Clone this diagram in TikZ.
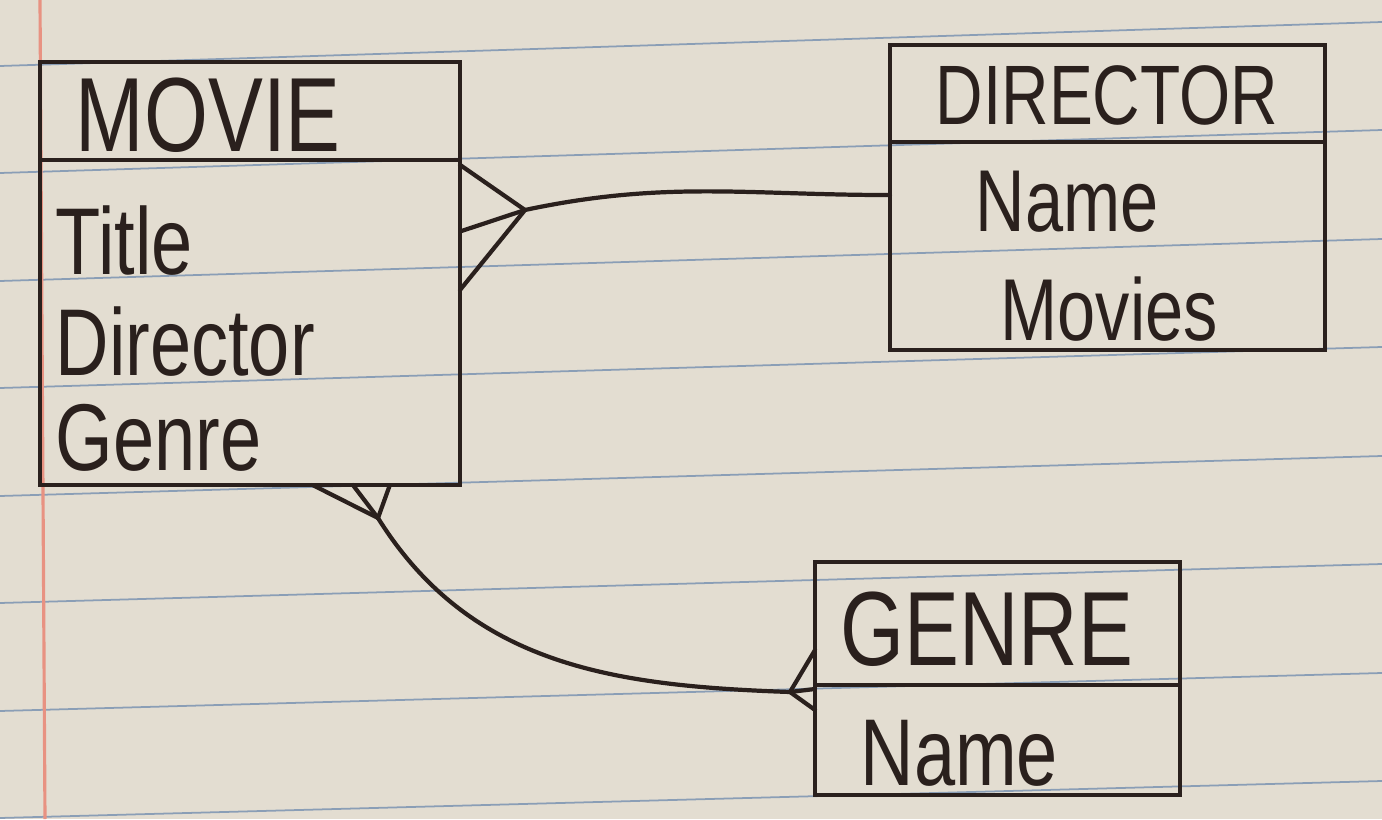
\documentclass[tikz,border=0pt]{standalone}
\usepackage{fontspec}
\setmainfont[FakeStretch=0.78]{Liberation Sans}
\usetikzlibrary{positioning,calc}
\pgfdeclarelayer{background}
\pgfsetlayers{background,main}
\definecolor{ink}{RGB}{42,32,29}
\definecolor{paper}{RGB}{227,221,209}
\definecolor{ruling}{RGB}{138,158,182}
\definecolor{margin}{RGB}{232,146,130}
\tikzstyle{entitybox}=[rectangle,draw=ink,line width=1.4pt,outer sep=0pt,inner sep=0pt]
\tikzstyle{title}=[text=ink,inner sep=0pt,anchor=base west,font=\fontsize{30}{36}\selectfont]
\tikzstyle{attr}=[text=ink,inner sep=0pt,anchor=base west,font=\fontsize{27}{32}\selectfont]
\tikzstyle{edge}=[draw=ink,line width=1.2pt,line cap=round]
\tikzstyle{ruleline}=[draw=ruling,line width=0.5pt]
\tikzstyle{marginline}=[draw=margin,line width=0.9pt]

\begin{document}
\begin{tikzpicture}
    \useasboundingbox (0,0) rectangle (13.82,8.19);
    % First we draw the entity boxes
    \node[entitybox,anchor=north west,minimum width=4.20cm,minimum height=0.98cm] (moviehead) at (0.40,7.57) {};
    \node[entitybox,below=0pt of moviehead,minimum width=4.20cm,minimum height=3.25cm] (moviebody) {};
    \node[entitybox,anchor=north west,minimum width=4.35cm,minimum height=0.97cm] (directorhead) at (8.90,7.74) {};
    \node[entitybox,below=0pt of directorhead,minimum width=4.35cm,minimum height=2.08cm] (directorbody) {};
    \node[entitybox,anchor=north west,minimum width=3.65cm,minimum height=1.23cm] (genrehead) at (8.15,2.57) {};
    \node[entitybox,below=0pt of genrehead,minimum width=3.65cm,minimum height=1.10cm] (genrebody) {};
    % Titles and attributes
    \node[title] (movietitle) at ($(moviehead.north west)+(0.35,-0.90)$) {MOVIE};
    \node[title,font=\fontsize{24}{29}\selectfont] (directortitle) at ($(directorhead.north west)+(0.45,-0.80)$) {DIRECTOR};
    \node[title] (genretitle) at ($(genrehead.north west)+(0.25,-1.03)$) {GENRE};
    \foreach \attr/\off in {Title/1.15, Director/2.15, Genre/3.10}
        \node[attr] (movie\attr) at ($(moviebody.north west)+(0.15,-\off)$) {\attr};
    \foreach \attr/\dx/\off in {Name/0.85/0.90, Movies/1.10/1.98}
        \node[attr,font=\fontsize{25}{30}\selectfont] (director\attr) at ($(directorbody.north west)+(\dx,-\off)$) {\attr};
    \node[attr] (genreName) at ($(genrebody.north west)+(0.45,-1.00)$) {Name};
    % Crow's feet on the many side
    \coordinate (mdjoin) at (5.25,6.09);
    \coordinate (mgjoin) at (3.78,3.01);
    \coordinate (gjoin) at (7.90,1.27);
    \foreach \f in {0.015,0.22,0.40}
        \path[edge] (mdjoin) -- ($(moviebody.north east)!\f!(moviebody.south east)$);
    \foreach \f in {0.649,0.745,0.833}
        \path[edge] (mgjoin) -- ($(moviebody.south west)!\f!(moviebody.south east)$);
    \foreach \f in {0.378,0.545,0.635}
        \path[edge] (gjoin) -- ($(genrehead.north west)!\f!(genrebody.south west)$);
    % Connect the entities
    \coordinate (dirend) at ($(directorbody.north west)!0.255!(directorbody.south west)$);
    \path[edge] (mdjoin) to[out=12,in=180] (dirend);
    \path[edge] (mgjoin) to[out=-58,in=178] (gjoin);
    % The ruled paper behind
    \begin{pgfonlayer}{background}
        \fill[paper] (0,0) rectangle (13.82,8.19);
        \foreach \yl/\yr in {7.53/7.97, 6.46/6.89, 5.38/5.80, 4.31/4.72, 3.23/3.63, 2.16/2.55, 1.08/1.46, 0.01/0.38}
            \path[ruleline] (0,\yl) -- (13.82,\yr);
        \path[marginline] (0.40,8.19) -- (0.45,0);
    \end{pgfonlayer}
\end{tikzpicture}
\end{document}
